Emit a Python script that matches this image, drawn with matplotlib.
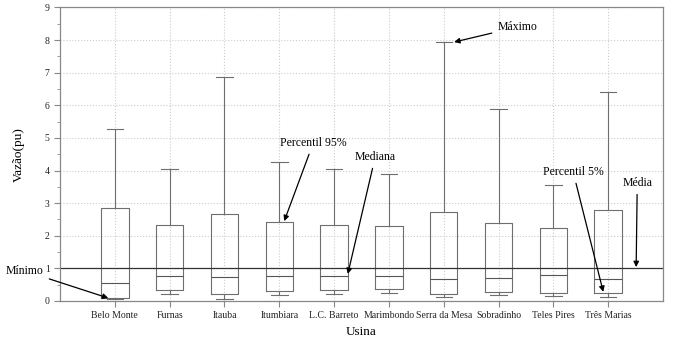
import matplotlib
matplotlib.use('Agg')
import matplotlib.pyplot as plt
from matplotlib.ticker import MultipleLocator

usinas = ['Belo Monte', 'Furnas', 'Itauba', 'Itumbiara', 'L.C. Barreto',
          'Marimbondo', 'Serra da Mesa', 'Sobradinho', 'Teles Pires', 'Três Marias']
minimo = [0.05, 0.22, 0.05, 0.17, 0.21, 0.24, 0.11, 0.18, 0.14, 0.13]
p5 = [0.10, 0.33, 0.20, 0.31, 0.33, 0.36, 0.21, 0.29, 0.25, 0.24]
mediana = [0.56, 0.76, 0.75, 0.78, 0.77, 0.77, 0.67, 0.72, 0.80, 0.67]
p95 = [2.84, 2.33, 2.67, 2.42, 2.33, 2.31, 2.74, 2.40, 2.25, 2.79]
maximo = [5.27, 4.05, 6.87, 4.25, 4.04, 3.89, 7.94, 5.89, 3.57, 6.41]
media = 1.0

plt.rcParams['font.family'] = ['Liberation Serif', 'DejaVu Serif']

fig = plt.figure(figsize=(6.76, 3.39), dpi=100)
ax = fig.add_axes([0.0888, 0.1121, 0.892, 0.8658])

stats = []
for i, nome in enumerate(usinas):
    stats.append({'label': nome, 'whislo': minimo[i], 'q1': p5[i], 'med': mediana[i],
                  'q3': p95[i], 'whishi': maximo[i], 'fliers': []})

gray = '#6e6e6e'
ax.bxp(stats, positions=range(1, len(usinas) + 1), widths=0.5, showfliers=False,
       capwidths=0.3,
       boxprops=dict(color=gray, lw=0.8),
       medianprops=dict(color='#555555', lw=0.8),
       whiskerprops=dict(color=gray, lw=0.8),
       capprops=dict(color=gray, lw=0.8))

ax.axhline(media, color='#333333', lw=0.9)

ax.set_xlim(0, 11)
ax.set_ylim(0, 9)
ax.yaxis.set_major_locator(MultipleLocator(1))
ax.yaxis.set_minor_locator(MultipleLocator(0.5))
ax.grid(True, which='major', color='#cccccc', ls=':', lw=0.8)
ax.set_axisbelow(True)
for s in ax.spines.values():
    s.set_color('#888888')
    s.set_linewidth(0.9)
ax.tick_params(axis='both', colors='#888888', labelcolor='#222222', labelsize=7, length=4)
ax.tick_params(axis='y', which='minor', colors='#888888', length=2.5)
ax.set_xlabel('Usina', fontsize=9.5, labelpad=4)
ax.set_ylabel('Vazão(pu)', fontsize=9.5, labelpad=14)

arrow = dict(arrowstyle='-|>', color='black', lw=0.9, mutation_scale=8, shrinkA=2, shrinkB=0)
notas = [
    ('Mínimo', (0.88, 0.09), (-0.64, 0.92)),
    ('Percentil 95%', (4.09, 2.45), (4.62, 4.85)),
    ('Mediana', (5.25, 0.83), (5.75, 4.42)),
    ('Máximo', (7.19, 7.94), (8.34, 8.40)),
    ('Percentil 5%', (9.91, 0.28), (9.36, 3.96)),
    ('Média', (10.51, 1.04), (10.53, 3.62)),
]
for texto, xy, xytext in notas:
    ax.annotate(texto, xy=xy, xytext=xytext, ha='center', va='center', fontsize=8.5,
                arrowprops=arrow, annotation_clip=False)

fig.savefig('out.png', dpi=100)
